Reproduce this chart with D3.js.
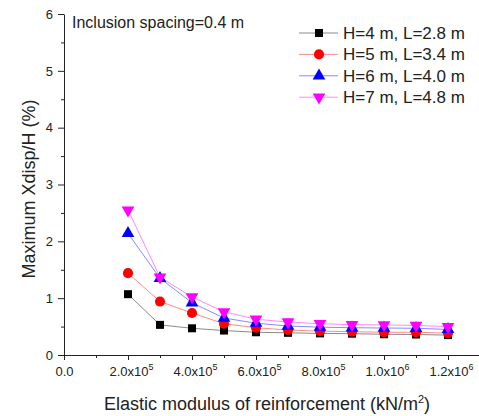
<!DOCTYPE html>
<html>
<head>
<meta charset="utf-8">
<script src="https://cdn.jsdelivr.net/npm/d3@7"></script>
<style>
  body { margin: 0; background: #fff; }
  svg, svg text { font-family: "Liberation Sans", Arial, sans-serif; }
  .axis text { font-size: 13px; fill: #222; font-family: "Liberation Sans", Arial, sans-serif; }
  .axis path, .axis line { stroke: #222; }
</style>
</head>
<body>
<svg width="479" height="416"></svg>
<script>
// data
var modulus = [2e5, 3e5, 4e5, 5e5, 6e5, 7e5, 8e5, 9e5, 1e6, 1.1e6, 1.2e6];
var h4 = [1.07, 0.53, 0.47, 0.43, 0.40, 0.39, 0.38, 0.375, 0.365, 0.36, 0.35];
var h5 = [1.44, 0.94, 0.74, 0.55, 0.48, 0.44, 0.42, 0.41, 0.40, 0.40, 0.385];
var h6 = [2.14, 1.35, 0.92, 0.65, 0.56, 0.51, 0.49, 0.48, 0.475, 0.47, 0.45];
var h7 = [2.55, 1.37, 1.02, 0.76, 0.63, 0.58, 0.55, 0.535, 0.53, 0.52, 0.50];
var seriesNames = ["H=4 m, L=2.8 m", "H=5 m, L=3.4 m", "H=6 m, L=4.0 m", "H=7 m, L=4.8 m"];
var markerColors = ["#000000", "#ff0000", "#0000ff", "#ff00ff"];
var lineColors = ["#8a8a8a", "#ff8a8a", "#8a8aff", "#ff8aff"];
var markerTypes = ["square", "circle", "triangle", "triangledown"];
var xTicks = [0, 2e5, 4e5, 6e5, 8e5, 1e6, 1.2e6];
var xTickLabels = [["0.0", ""], ["2.0x10", "5"], ["4.0x10", "5"], ["6.0x10", "5"], ["8.0x10", "5"], ["1.0x10", "6"], ["1.2x10", "6"]];
var yTicks = [0, 1, 2, 3, 4, 5, 6];

var series = [h4, h5, h6, h7];

var svg = d3.select("svg");
var plotLeft = 64, plotRight = 480, plotTop = 14, plotBottom = 355;

var x = d3.scaleLinear().domain([0, 1.3e6]).range([plotLeft, plotRight]);
var y = d3.scaleLinear().domain([0, 6]).range([plotBottom, plotTop]);

// minor ticks first
svg.append("g")
  .attr("class", "axis")
  .attr("transform", "translate(0," + plotBottom + ")")
  .call(d3.axisBottom(x).tickValues(d3.range(1e5, 1.3e6, 2e5)).tickSize(3).tickFormat(""))
  .select(".domain").remove();

svg.append("g")
  .attr("class", "axis")
  .attr("transform", "translate(" + plotLeft + ",0)")
  .call(d3.axisLeft(y).tickValues(d3.range(0.5, 6, 1)).tickSize(3).tickFormat(""))
  .select(".domain").remove();

var xAxis = svg.append("g")
  .attr("class", "axis")
  .attr("transform", "translate(0," + plotBottom + ")")
  .call(d3.axisBottom(x).tickValues(xTicks).tickSize(5).tickSizeOuter(0).tickPadding(5).tickFormat(""));

xAxis.selectAll(".tick text")
  .each(function(d, i) {
    var t = d3.select(this);
    t.append("tspan").text(xTickLabels[i][0]);
    if (xTickLabels[i][1]) {
      t.append("tspan")
        .attr("dy", -6)
        .style("font-size", "9px")
        .text(xTickLabels[i][1]);
    }
    t.attr("dx", xTickLabels[i][1] ? 3 : 0).attr("y", 12).attr("dy", "0.71em");
  });

svg.append("g")
  .attr("class", "axis")
  .attr("transform", "translate(" + plotLeft + ",0)")
  .call(d3.axisLeft(y).tickValues(yTicks).tickSize(6).tickSizeOuter(0).tickPadding(5).tickFormat(d3.format("d")));

// lines
var line = d3.line()
  .x(function(d, i) { return x(modulus[i]); })
  .y(function(d) { return y(d); });

series.forEach(function(s, k) {
  svg.append("path")
    .datum(s)
    .attr("d", line)
    .attr("fill", "none")
    .attr("stroke", lineColors[k])
    .attr("stroke-width", 1);
});

var symbolFor = function(type) {
  if (type == "square") return d3.symbol().type(d3.symbolSquare).size(64);
  if (type == "circle") return d3.symbol().type(d3.symbolCircle).size(80);
  return d3.symbol().type(d3.symbolTriangle).size(70);
};

series.forEach(function(s, k) {
  svg.append("g")
    .selectAll("path")
    .data(s)
    .enter()
    .append("path")
      .attr("d", symbolFor(markerTypes[k]))
      .attr("transform", function(d, i) {
        var rot = markerTypes[k] == "triangledown" ? " rotate(180)" : "";
        return "translate(" + x(modulus[i]) + "," + y(d) + ")" + rot;
      })
      .attr("fill", markerColors[k]);
});

// note
svg.append("text")
  .text("Inclusion spacing=0.4 m")
  .attr("x", 72)
  .attr("y", 28)
  .style("font-size", "16px")
  .style("fill", "#222");

// legend
var legend = svg.append("g")
  .selectAll("g")
  .data(seriesNames)
  .enter()
  .append("g")
    .attr("transform", function(d, i) {
      return "translate(299," + (33 + i * 21.4) + ")";
    });

legend.append("line")
  .attr("x1", 0)
  .attr("x2", 39)
  .attr("stroke", function(d, i) { return lineColors[i]; })
  .attr("stroke-width", 1);

legend.append("path")
  .attr("d", function(d, i) { return symbolFor(markerTypes[i])(); })
  .attr("transform", function(d, i) {
    return "translate(20,0)" + (markerTypes[i] == "triangledown" ? " rotate(180)" : "");
  })
  .attr("fill", function(d, i) { return markerColors[i]; });

legend.append("text")
  .attr("x", 44)
  .attr("y", 6)
  .style("font-size", "17px")
  .style("fill", "#222")
  .text(function(d) { return d; });

// axis titles
svg.append("text")
  .attr("transform", "translate(35,189) rotate(-90)")
  .attr("text-anchor", "middle")
  .style("font-size", "18px")
  .style("fill", "#222")
  .text("Maximum Xdisp/H (%)");

var xTitle = svg.append("text")
  .attr("x", 267)
  .attr("y", 410)
  .attr("text-anchor", "middle")
  .style("font-size", "18px")
  .style("fill", "#222");
xTitle.append("tspan").text("Elastic modulus of reinforcement (kN/m");
xTitle.append("tspan").attr("dy", -7).style("font-size", "11px").text("2");
xTitle.append("tspan").attr("dy", 7).text(")");
</script>
</body>
</html>
